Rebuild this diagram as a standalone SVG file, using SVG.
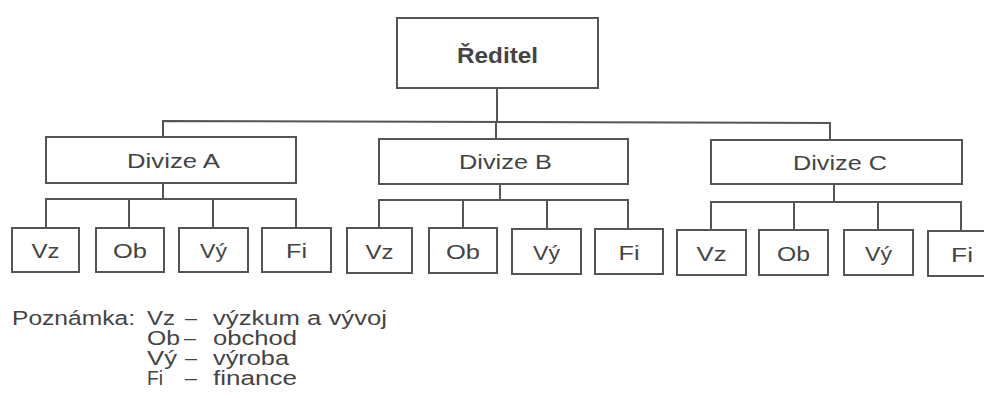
<svg xmlns="http://www.w3.org/2000/svg" width="984" height="398" viewBox="0 0 984 398">
<style>
.box{fill:#ffffff;stroke:#555555;stroke-width:2}
.con{fill:none;stroke:#555555;stroke-width:2}
.t{font-family:"Liberation Sans",Arial,sans-serif;fill:#444444;text-anchor:middle}
.lbl{font-size:20px}
.sub{font-size:21px}
.head{font-size:22px;font-weight:bold}
.note{font-family:"Liberation Sans",Arial,sans-serif;fill:#444444;font-size:20px}
</style>
<rect width="984" height="398" fill="#ffffff"/>
<g id="connectors">
<path class="con" d="M497,88 V122 M163,137 V121 L830,123 V140 M496,122 V139"/>
<path class="con" d="M163,183 V199 M46,228 V199 H296 V228 M129,199 V228 M213,199 V228"/>
<path class="con" d="M500,184 V200 M379,228 V200 H628 V229 M463,200 V228 M547,200 V229"/>
<path class="con" d="M834,184 V202 M711,230 V202 H961 V231 M794,202 V230 M878,202 V230"/>
</g>
<g id="reditel"><rect class="box" x="397" y="18" width="201" height="70"/><text class="t head" x="497.5" y="63" textLength="81" lengthAdjust="spacingAndGlyphs">Ředitel</text></g>
<g id="divizeA"><rect class="box" x="46" y="137" width="250" height="46"/><text class="t lbl" x="173.5" y="168" textLength="93" lengthAdjust="spacingAndGlyphs">Divize A</text></g>
<g id="divizeB"><rect class="box" x="379" y="139" width="249" height="45"/><text class="t lbl" x="505.5" y="169" textLength="93" lengthAdjust="spacingAndGlyphs">Divize B</text></g>
<g id="divizeC"><rect class="box" x="711" y="140" width="251" height="44"/><text class="t lbl" x="840" y="170" textLength="94" lengthAdjust="spacingAndGlyphs">Divize C</text></g>
<g id="A-Vz"><rect class="box" x="12" y="228" width="67" height="44"/><text class="t sub" x="45.5" y="258" textLength="28" lengthAdjust="spacingAndGlyphs">Vz</text></g>
<g id="A-Ob"><rect class="box" x="96" y="228" width="68" height="44"/><text class="t sub" x="130" y="258" textLength="34" lengthAdjust="spacingAndGlyphs">Ob</text></g>
<g id="A-Vy"><rect class="box" x="179" y="228" width="69" height="44"/><text class="t sub" x="213.5" y="258" textLength="27" lengthAdjust="spacingAndGlyphs">Vý</text></g>
<g id="A-Fi"><rect class="box" x="262" y="228" width="69" height="44"/><text class="t sub" x="296.5" y="258" textLength="21" lengthAdjust="spacingAndGlyphs">Fi</text></g>
<g id="B-Vz"><rect class="box" x="347" y="228" width="65" height="45"/><text class="t sub" x="379.5" y="259" textLength="28" lengthAdjust="spacingAndGlyphs">Vz</text></g>
<g id="B-Ob"><rect class="box" x="429" y="228" width="68" height="45"/><text class="t sub" x="463" y="259" textLength="34" lengthAdjust="spacingAndGlyphs">Ob</text></g>
<g id="B-Vy"><rect class="box" x="512" y="229" width="69" height="45"/><text class="t sub" x="546.5" y="260" textLength="27" lengthAdjust="spacingAndGlyphs">Vý</text></g>
<g id="B-Fi"><rect class="box" x="595" y="229" width="68" height="45"/><text class="t sub" x="629" y="260" textLength="21" lengthAdjust="spacingAndGlyphs">Fi</text></g>
<g id="C-Vz"><rect class="box" x="677" y="230" width="69" height="45"/><text class="t sub" x="711.5" y="261" textLength="30" lengthAdjust="spacingAndGlyphs">Vz</text></g>
<g id="C-Ob"><rect class="box" x="759" y="230" width="69" height="45"/><text class="t sub" x="793.5" y="261" textLength="33" lengthAdjust="spacingAndGlyphs">Ob</text></g>
<g id="C-Vy"><rect class="box" x="844" y="230" width="69" height="45"/><text class="t sub" x="878.5" y="261" textLength="27" lengthAdjust="spacingAndGlyphs">Vý</text></g>
<g id="C-Fi"><rect class="box" x="928" y="231" width="68" height="45"/><text class="t sub" x="962" y="262" textLength="22" lengthAdjust="spacingAndGlyphs">Fi</text></g>
<g id="note">
<text class="note"><tspan x="12" y="325" textLength="123" lengthAdjust="spacingAndGlyphs">Poznámka:</tspan><tspan x="147" y="325" textLength="28" lengthAdjust="spacingAndGlyphs">Vz</tspan><tspan x="185" y="325" textLength="12" lengthAdjust="spacingAndGlyphs">–</tspan><tspan x="213" y="325" textLength="174" lengthAdjust="spacingAndGlyphs">výzkum a vývoj</tspan><tspan x="147" y="345" textLength="33" lengthAdjust="spacingAndGlyphs">Ob</tspan><tspan x="184" y="345" textLength="12" lengthAdjust="spacingAndGlyphs">–</tspan><tspan x="213" y="345" textLength="84" lengthAdjust="spacingAndGlyphs">obchod</tspan><tspan x="147" y="365" textLength="30" lengthAdjust="spacingAndGlyphs">Vý</tspan><tspan x="185" y="365" textLength="12" lengthAdjust="spacingAndGlyphs">–</tspan><tspan x="213" y="365" textLength="76" lengthAdjust="spacingAndGlyphs">výroba</tspan><tspan x="147" y="385" textLength="16" lengthAdjust="spacingAndGlyphs">Fi</tspan><tspan x="185" y="385" textLength="12" lengthAdjust="spacingAndGlyphs">–</tspan><tspan x="213" y="385" textLength="84" lengthAdjust="spacingAndGlyphs">finance</tspan></text>
</g>
</svg>
